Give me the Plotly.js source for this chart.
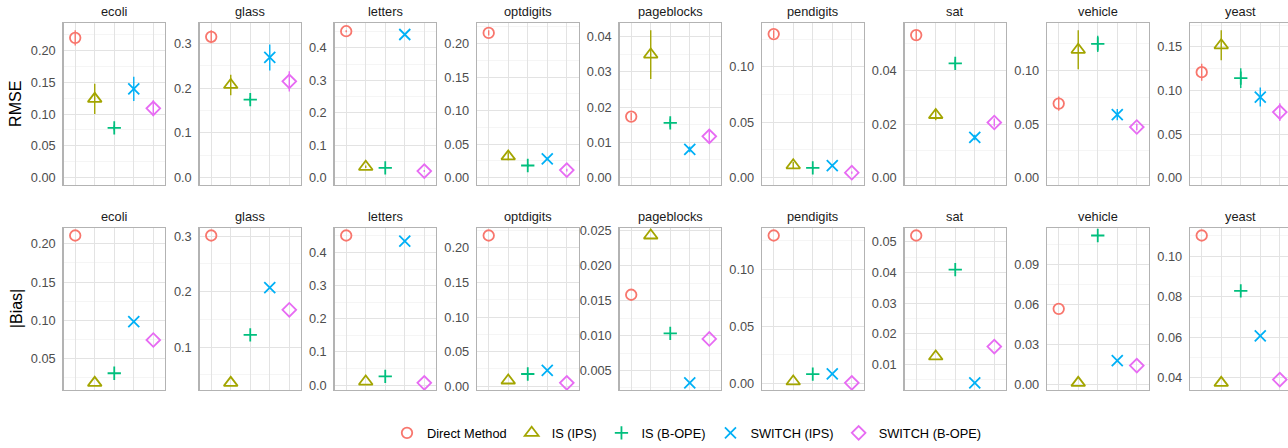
<!DOCTYPE html>
<html><head><meta charset="utf-8">
<script src="https://cdn.plot.ly/plotly-3.0.1.min.js"></script>
<style>html,body{margin:0;padding:0;overflow:hidden;background:#fff}#chart{width:1300px;height:448px}</style>
</head><body><div id="chart"></div>
<script>
const datasets = ['ecoli','glass','letters','optdigits','pageblocks','pendigits','sat','vehicle','yeast'];
const methods = ['Direct Method','IS (IPS)','IS (B-OPE)','SWITCH (IPS)','SWITCH (B-OPE)'];
const rowTitles = ['RMSE','|Bias|'];

// RMSE (mean) per method, one value per dataset
const rmseDM      = [0.220, 0.3146, 0.4514, 0.2161, 0.0173, 0.1297, 0.0533, 0.0692, 0.1210];
const rmseISIPS   = [0.124, 0.207, 0.0332, 0.0317, 0.0349, 0.0111, 0.0234, 0.1195, 0.1519];
const rmseISBOPE  = [0.0782, 0.174, 0.030, 0.018, 0.0155, 0.0087, 0.0427, 0.1250, 0.1143];
const rmseSWIPS   = [0.1397, 0.2685, 0.4413, 0.0278, 0.0080, 0.0108, 0.0150, 0.0588, 0.0925];
const rmseSWBOPE  = [0.109, 0.215, 0.020, 0.0112, 0.0117, 0.0044, 0.0206, 0.0473, 0.0752];
// RMSE error-bar half widths
const errDM      = [0.012, 0.0146, 0.003, 0.004, 0.0011, 0.0035, 0.0018, 0.0066, 0.0098];
const errISIPS   = [0.0237, 0.023, 0.004, 0.006, 0.0069, 0.003, 0.002, 0.0183, 0.0173];
const errISBOPE  = [0.004, 0.006, 0.002, 0.002, 0.0012, 0.001, 0.0015, 0.0076, 0.0113];
const errSWIPS   = [0.019, 0.029, 0.003, 0.002, 0.0008, 0.001, 0.001, 0.0053, 0.011];
const errSWBOPE  = [0.0126, 0.0226, 0.003, 0.002, 0.0017, 0.001, 0.0015, 0.003, 0.0101];
// |Bias| per method
const biasDM     = [0.2108, 0.3012, 0.4512, 0.218, 0.01586, 0.1297, 0.0520, 0.0569, 0.1102];
const biasISIPS  = [0.0186, 0.0357, 0.0108, 0.0081, 0.02435, 0.0014, 0.0126, 0.0012, 0.0376];
const biasISBOPE = [0.0311, 0.122, 0.0266, 0.0175, 0.01031, 0.0078, 0.0409, 0.1121, 0.0829];
const biasSWIPS  = [0.0986, 0.2071, 0.4345, 0.0227, 0.00323, 0.0081, 0.0040, 0.0179, 0.0607];
const biasSWBOPE = [0.0745, 0.1673, 0.0069, 0.0047, 0.00952, 0.0002, 0.0158, 0.0142, 0.0392];

// tick steps per panel
const rmseDtick = [0.05, 0.1, 0.1, 0.05, 0.01, 0.05, 0.02, 0.05, 0.05];
const biasDtick = [0.05, 0.1, 0.1, 0.05, 0.005, 0.05, 0.01, 0.03, 0.02];

const colors  = ['#F8766D', '#A3A500', '#00BF7D', '#00B0F6', '#E76BF3'];
const symbols = ['circle-open', 'triangle-up-open', 'cross-thin-open', 'x-thin-open', 'diamond-open'];
const sizes   = [10.5, 12, 9.5, 11, 10.5];

const rmseByMethod = [rmseDM, rmseISIPS, rmseISBOPE, rmseSWIPS, rmseSWBOPE];
const errByMethod  = [errDM, errISIPS, errISBOPE, errSWIPS, errSWBOPE];
const biasByMethod = [biasDM, biasISIPS, biasISBOPE, biasSWIPS, biasSWBOPE];

const W = 1300, H = 448;
const panelLeft = [63.5, 199.5, 334.5, 477, 619.5, 762, 904.5, 1047, 1190];
const panelW = 101.5;
const rowTop = [23.3, 232.3];
const panelH = 165;
const FONT = 'Liberation Sans, Arial, Helvetica, sans-serif';
const TXT = 12.8;

function decimals(d) { const s = String(d); return s.includes('.') ? s.split('.')[1].length : 0; }

const traces = [];
const layout = {
  width: W, height: H,
  margin: {l: 0, r: 0, t: 0, b: 0},
  paper_bgcolor: '#fff', plot_bgcolor: '#fff',
  font: {family: FONT, size: TXT, color: '#4d4d4d'},
  showlegend: true,
  legend: {orientation: 'h', x: 687 / W, xanchor: 'center', y: (H - 441) / H, yanchor: 'middle',
           font: {family: FONT, size: TXT, color: '#000'}, itemwidth: 30, traceorder: 'normal'},
  annotations: []
};

for (let r = 0; r < 2; r++) {
  for (let c = 0; c < 9; c++) {
    const idx = r * 9 + c + 1;
    const xa = 'xaxis' + idx, ya = 'yaxis' + idx;
    const xr = 'x' + idx, yr = 'y' + idx;
    let lo, hi;
    if (r === 0) {
      hi = Math.max(...rmseByMethod.map((a, m) => a[c] + errByMethod[m][c]));
      lo = 0;
    } else {
      const vals = biasByMethod.map(a => a[c]);
      hi = Math.max(...vals); lo = Math.min(...vals);
    }
    const span = hi - lo;
    const range = [lo - 0.05 * span, hi + 0.05 * span];
    const dt = r === 0 ? rmseDtick[c] : biasDtick[c];
    const top = rowTop[r];
    layout[xa] = {
      domain: [panelLeft[c] / W, (panelLeft[c] + panelW) / W],
      anchor: yr, type: 'category', categoryorder: 'array', categoryarray: methods,
      range: [-0.6, 4.6], showticklabels: false, ticks: '',
      showgrid: true, gridcolor: '#e3e3e3', gridwidth: 1,
      showline: true, mirror: true, linecolor: '#b3b3b3', linewidth: 1.2, zeroline: false,
      fixedrange: true
    };
    layout[ya] = {
      domain: [(H - top - panelH) / H, (H - top) / H],
      anchor: xr, range: range, tick0: 0, dtick: dt, tickformat: '.' + decimals(dt) + 'f',
      ticks: '', ticklabelstandoff: 4,
      tickfont: {family: FONT, size: TXT, color: '#4d4d4d'},
      showgrid: true, gridcolor: '#e3e3e3', gridwidth: 1,
      minor: {tick0: 0, dtick: dt / 2, showgrid: true, gridcolor: '#efefef', gridwidth: 0.6, ticks: ''},
      showline: true, mirror: true, linecolor: '#b3b3b3', linewidth: 1.2, zeroline: false,
      fixedrange: true
    };
    layout.annotations.push({
      text: datasets[c], xref: 'paper', yref: 'paper',
      x: (panelLeft[c] + panelW / 2) / W, y: (H - (top - 11.5)) / H,
      xanchor: 'center', yanchor: 'middle', showarrow: false,
      font: {family: FONT, size: TXT, color: '#1a1a1a'}
    });
    for (let m = 0; m < 5; m++) {
      const t = {
        type: 'scatter', mode: 'markers',
        x: [methods[m]],
        y: [r === 0 ? rmseByMethod[m][c] : biasByMethod[m][c]],
        xaxis: xr, yaxis: yr,
        name: methods[m], legendgroup: methods[m],
        showlegend: (r === 0 && c === 0),
        marker: {symbol: symbols[m], size: sizes[m], color: colors[m], line: {color: colors[m], width: 1.8}},
        cliponaxis: false, hoverinfo: 'skip'
      };
      if (r === 0) {
        t.error_y = {type: 'data', array: [errByMethod[m][c]], visible: true, width: 0, thickness: 1.4, color: colors[m]};
      }
      traces.push(t);
    }
  }
}

for (let r = 0; r < 2; r++) {
  layout.annotations.push({
    text: rowTitles[r], xref: 'paper', yref: 'paper',
    x: 16 / W, y: (H - (rowTop[r] + panelH / 2)) / H,
    xanchor: 'center', yanchor: 'middle', textangle: -90, showarrow: false,
    font: {family: FONT, size: 16, color: '#000'}
  });
}

Plotly.newPlot('chart', traces, layout, {displayModeBar: false, staticPlot: true});
</script>
</body></html>
